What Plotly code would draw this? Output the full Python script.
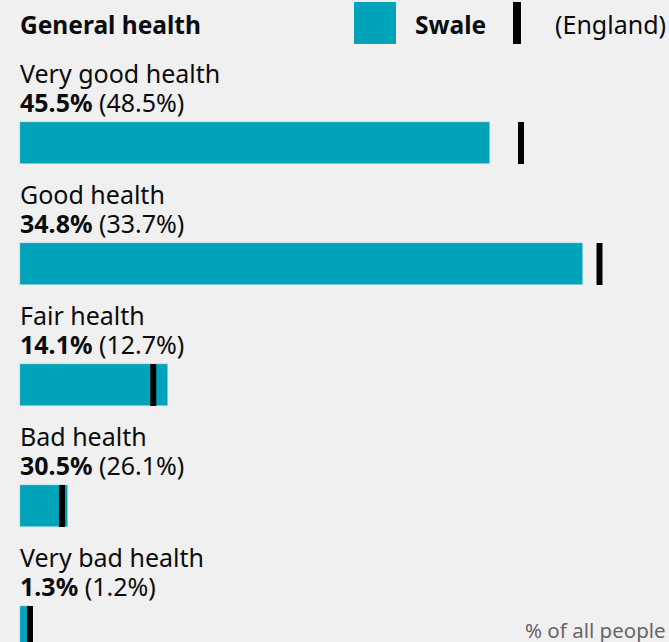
import plotly.graph_objects as go

# ---- data ----
categories = ["Very good health", "Good health", "Fair health", "Bad health", "Very bad health"]
label_swale = ["45.5%", "34.8%", "14.1%", "30.5%", "1.3%"]
label_england = ["(48.5%)", "(33.7%)", "(12.7%)", "(26.1%)", "(1.2%)"]
bar_swale = [45.5, 54.5, 14.3, 4.65, 0.85]
marker_england = [48.5, 56.1, 12.9, 4.07, 0.97]

title = "General health"
area_name = "Swale"
compare_name = "(England)"
unit_note = "% of all people"

# ---- style ----
W, H = 669, 642
TEAL = "#00a3b8"
BG = "#f0f0f0"
FONT = "Noto Sans"
TXT = "#0b0c0c"
PX_PER_UNIT = 10.33
X0_PX = 20
x_min = -X0_PX / PX_PER_UNIT
x_max = (W - X0_PX) / PX_PER_UNIT
ROW_PX = 121
FIRST_CENTER_PX = 143
y_top = -FIRST_CENTER_PX / ROW_PX
y_bot = (H - FIRST_CENTER_PX) / ROW_PX
BAR_PX = 42

ys = list(range(len(categories)))

fig = go.Figure()
fig.add_trace(go.Bar(
    y=ys, x=bar_swale, orientation="h", marker_color=TEAL,
    width=BAR_PX / ROW_PX, hoverinfo="skip", showlegend=False,
))
fig.add_trace(go.Scatter(
    y=ys, x=marker_england, mode="markers",
    marker=dict(symbol="line-ns", size=BAR_PX / 1.4, line=dict(width=6, color="black")),
    hoverinfo="skip", showlegend=False,
))

TX = (X0_PX - 2) / W
ann = []
for i, c in enumerate(categories):
    ann.append(dict(xref="paper", yref="y", x=TX, y=i, xanchor="left",
                    yanchor="middle", yshift=70, text=c, showarrow=False,
                    font=dict(family=FONT, size=25, color=TXT)))
    ann.append(dict(xref="paper", yref="y", x=TX, y=i, xanchor="left",
                    yanchor="middle", yshift=41,
                    text=f"<b>{label_swale[i]}</b> {label_england[i]}", showarrow=False,
                    font=dict(family=FONT, size=25, color=TXT)))

ann.append(dict(xref="paper", yref="paper", x=TX, y=1 - 24 / H, xanchor="left",
                yanchor="middle", text=f"<b>{title}</b>", showarrow=False,
                font=dict(family=FONT, size=24.5, color=TXT)))
ann.append(dict(xref="paper", yref="paper", x=413 / W, y=1 - 24 / H, xanchor="left",
                yanchor="middle", text=f"<b>{area_name}</b>", showarrow=False,
                font=dict(family=FONT, size=24.5, color=TXT)))
ann.append(dict(xref="paper", yref="paper", x=553 / W, y=1 - 24 / H, xanchor="left",
                yanchor="middle", text=compare_name, showarrow=False,
                font=dict(family=FONT, size=25, color=TXT)))
ann.append(dict(xref="paper", yref="paper", x=668 / W, y=1 - 630 / H, xanchor="right",
                yanchor="middle", text=unit_note, showarrow=False,
                font=dict(family=FONT, size=20.5, color="#666")))

shapes = [
    dict(type="rect", xref="paper", yref="paper", x0=354 / W, x1=396 / W,
         y0=1 - 44 / H, y1=1 - 2 / H, fillcolor=TEAL, line=dict(width=0)),
    dict(type="rect", xref="paper", yref="paper", x0=513 / W, x1=521 / W,
         y0=1 - 44 / H, y1=1 - 2 / H, fillcolor="black", line=dict(width=0)),
]

fig.update_layout(
    width=W, height=H, margin=dict(l=0, r=0, t=0, b=0),
    paper_bgcolor=BG, plot_bgcolor=BG,
    xaxis=dict(range=[x_min, x_max], visible=False, fixedrange=True),
    yaxis=dict(range=[y_bot, y_top], visible=False, fixedrange=True),
    annotations=ann, shapes=shapes, bargap=0,
)

fig.write_html("out.html", config={"displayModeBar": False},
               post_script="document.body.style.margin='0';")
